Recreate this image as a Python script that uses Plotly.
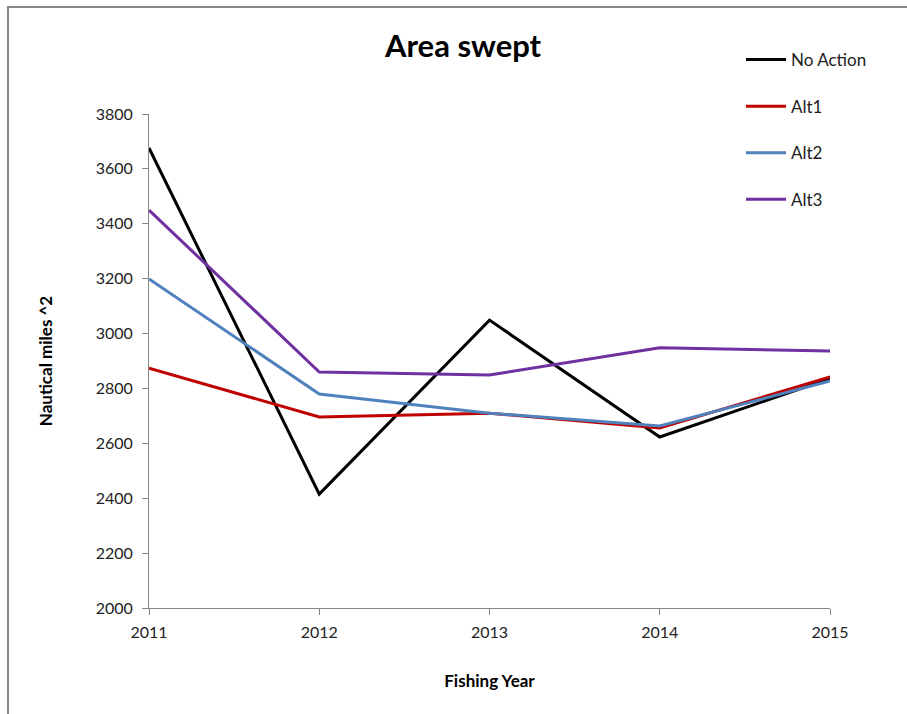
import plotly.graph_objects as go

years = [2011, 2012, 2013, 2014, 2015]
series_names = ["No Action", "Alt1", "Alt2", "Alt3"]
no_action = [3676, 2415, 3049, 2623, 2836]
alt1 = [2874, 2696, 2710, 2656, 2842]
alt2 = [3199, 2780, 2710, 2663, 2827]
alt3 = [3450, 2860, 2849, 2948, 2936]
colors = ["#000000", "#C00000", "#4F81BD", "#7030A0"]
y_ticks = list(range(2000, 3801, 200))

FONT = "Lato"
fig = go.Figure()
for i, (name, vals) in enumerate(zip(series_names, [no_action, alt1, alt2, alt3])):
    fig.add_trace(go.Scatter(x=years, y=vals, mode="lines", name=name,
                             line=dict(color=colors[i], width=3),
                             legendgroup=f"g{i}"))

L, R, T, B = 149, 77, 114, 106
W, H = 907, 714
pw, ph = W - L - R, H - T - B

def px(xp):
    return (xp - L) / pw

def py(yp):
    return (H - B - yp) / ph

fig.update_layout(
    width=W, height=H,
    margin=dict(l=L, r=R, t=T, b=B, autoexpand=False),
    paper_bgcolor="white", plot_bgcolor="white",
    font=dict(family=FONT, size=15, color="#222222"),
    showlegend=True,
    legend=dict(x=px(741), y=py(42), xanchor="left", yanchor="top",
                font=dict(size=17, color="#222222"), tracegroupgap=21.5,
                bgcolor="rgba(0,0,0,0)", itemwidth=40),
    xaxis=dict(range=[2011, 2015], tickvals=years, ticktext=[str(y) for y in years],
               showgrid=False, zeroline=False, showline=True, linecolor="#868686", linewidth=1,
               ticks="outside", ticklen=6, tickcolor="#868686", ticklabelstandoff=4,
               tickfont=dict(size=16, color="#222222"),
               title=dict(text="<b>Fishing Year</b>", font=dict(size=17, color="#000000"), standoff=34)),
    yaxis=dict(range=[2000, 3800], tickvals=y_ticks,
               showgrid=False, zeroline=False, showline=True, linecolor="#868686", linewidth=1,
               ticks="outside", ticklen=6, tickcolor="#868686", ticklabelstandoff=6,
               tickfont=dict(size=16, color="#222222"),
               title=dict(text="<b>Nautical miles ^2</b>", font=dict(size=17, color="#000000"), standoff=38)),
    annotations=[dict(text="<b>Area swept</b>", x=px(463), y=py(45), xref="paper", yref="paper",
                      xanchor="center", yanchor="middle", showarrow=False,
                      font=dict(size=31, color="#000000", family=FONT))],
    shapes=[dict(type="rect", xref="paper", yref="paper",
                 x0=px(8), x1=px(940), y0=py(760), y1=py(7),
                 line=dict(color="#878787", width=2), fillcolor="rgba(0,0,0,0)", layer="below")],
)

fig.write_html("out.html")
